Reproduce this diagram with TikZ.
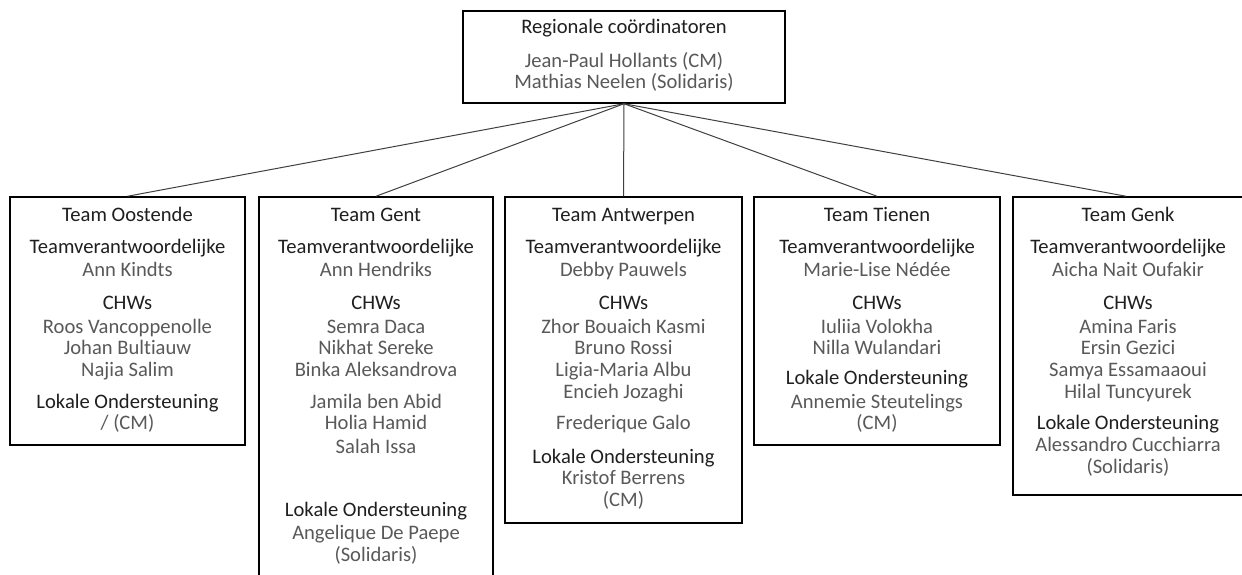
\documentclass[tikz,border=0pt]{standalone}
\usepackage{fontspec}
\setmainfont{Carlito}[Ligatures=NoCommon]
\definecolor{hdc}{HTML}{1F1F1F}
\definecolor{nmc}{HTML}{595959}
\definecolor{lnc}{HTML}{404040}
\begin{document}
\begin{tikzpicture}[x=1pt,y=-1pt,
  box/.style={draw=black,line width=1.5pt,inner sep=0pt,fill=none},
  hd/.style={anchor=base,inner sep=0pt,text=hdc,font=\fontsize{20.6}{21.5}\selectfont},
  nm/.style={anchor=base,inner sep=0pt,text=nmc,font=\fontsize{20.6}{21.5}\selectfont},
  conn/.style={draw=lnc,line width=1pt}]
\useasboundingbox (0,0) rectangle (1242,575);
\fill[white] (0,0) rectangle (1242,575);
% boxes
\node[box,minimum width=322pt,minimum height=92pt] (top) at (624,57) {};
\node[box,minimum width=235pt,minimum height=248pt] (oost) at (127.5,321) {};
\node[box,minimum width=234pt,minimum height=383pt] (gent) at (376,388.5) {};
\node[box,minimum width=237pt,minimum height=326pt] (antw) at (623.5,360) {};
\node[box,minimum width=246pt,minimum height=248pt] (tien) at (877,321) {};
\node[box,minimum width=234pt,minimum height=298pt] (genk) at (1130,346) {};
% connectors
\draw[conn] (top.south) -- (oost.north);
\draw[conn] (top.south) -- (gent.north);
\draw[conn] (top.south) -- (antw.north);
\draw[conn] (top.south) -- (tien.north);
\draw[conn] (top.south) -- ([xshift=-4pt]genk.north);
% top texts
\node[hd] (r1) at (624,34) {Regionale coördinatoren};
\node[nm] (r2) at (624,68) {Jean-Paul Hollants (CM)};
\node[nm] (r3) at (624,89) {Mathias Neelen (Solidaris)};
% Oostende
\node[hd] (o1) at (127.5,221) {Team Oostende};
\node[hd] (o2) at (127.5,253) {Teamverantwoordelijke};
\node[nm] (o3) at (127.5,276) {Ann Kindts};
\node[hd] (o4) at (127.5,309) {CHWs};
\node[nm] (o5) at (127.5,333) {Roos Vancoppenolle};
\node[nm] (o6) at (127.5,354) {Johan Bultiauw};
\node[nm] (o7) at (127.5,376) {Najia Salim};
\node[hd] (o8) at (127.5,408) {Lokale Ondersteuning};
\node[nm] (o9) at (127.5,429) {/ (CM)};
% Gent
\node[hd] (g1) at (376,221) {Team Gent};
\node[hd] (g2) at (376,253) {Teamverantwoordelijke};
\node[nm] (g3) at (376,276) {Ann Hendriks};
\node[hd] (g4) at (376,309) {CHWs};
\node[nm] (g5) at (376,333) {Semra Daca};
\node[nm] (g6) at (376,354) {Nikhat Sereke};
\node[nm] (g7) at (376,376) {Binka Aleksandrova};
\node[nm] (g8) at (376,408) {Jamila ben Abid};
\node[nm] (g9) at (376,429) {Holia Hamid};
\node[nm] (g10) at (376,453) {Salah Issa};
\node[hd] (g11) at (376,516) {Lokale Ondersteuning};
\node[nm] (g12) at (376,539) {Angelique De Paepe};
\node[nm] (g13) at (376,561) {(Solidaris)};
% Antwerpen
\node[hd] (a1) at (623.5,221) {Team Antwerpen};
\node[hd] (a2) at (623.5,253) {Teamverantwoordelijke};
\node[nm] (a3) at (623.5,276) {Debby Pauwels};
\node[hd] (a4) at (623.5,309) {CHWs};
\node[nm] (a5) at (623.5,333) {Zhor Bouaich Kasmi};
\node[nm] (a6) at (623.5,354) {Bruno Rossi};
\node[nm] (a7) at (623.5,376) {Ligia-Maria Albu};
\node[nm] (a8) at (623.5,398) {Encieh Jozaghi};
\node[nm] (a9) at (623.5,429) {Frederique Galo};
\node[hd] (a10) at (623.5,463) {Lokale Ondersteuning};
\node[nm] (a11) at (623.5,484) {Kristof Berrens};
\node[nm] (a12) at (623.5,506) {(CM)};
% Tienen
\node[hd] (t1) at (877,221) {Team Tienen};
\node[hd] (t2) at (877,253) {Teamverantwoordelijke};
\node[nm] (t3) at (877,276) {Marie-Lise Nédée};
\node[hd] (t4) at (877,309) {CHWs};
\node[nm] (t5) at (877,333) {Iuliia Volokha};
\node[nm] (t6) at (877,354) {Nilla Wulandari};
\node[hd] (t7) at (877,384) {Lokale Ondersteuning};
\node[nm] (t8) at (877,408) {Annemie Steutelings};
\node[nm] (t9) at (877,429) {(CM)};
% Genk
\node[hd] (k1) at (1128,221) {Team Genk};
\node[hd] (k2) at (1128,253) {Teamverantwoordelijke};
\node[nm] (k3) at (1128,276) {Aicha Nait Oufakir};
\node[hd] (k4) at (1128,309) {CHWs};
\node[nm] (k5) at (1128,333) {Amina Faris};
\node[nm] (k6) at (1128,354) {Ersin Gezici};
\node[nm] (k7) at (1128,376) {Samya Essamaaoui};
\node[nm] (k8) at (1128,398) {Hilal Tuncyurek};
\node[hd] (k9) at (1128,429) {Lokale Ondersteuning};
\node[nm] (k10) at (1128,451) {Alessandro Cucchiarra};
\node[nm] (k11) at (1128,473) {(Solidaris)};
\end{tikzpicture}
\end{document}
